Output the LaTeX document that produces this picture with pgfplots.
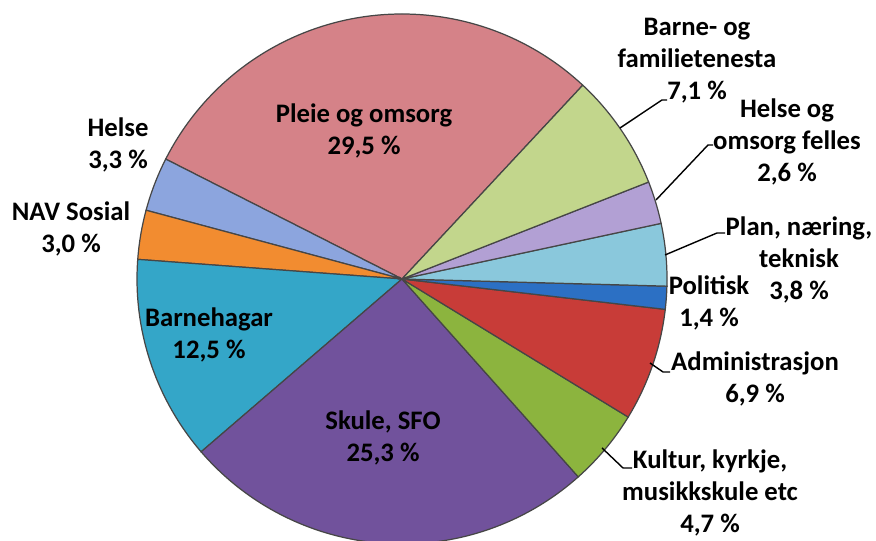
\documentclass[border=0pt]{standalone}
\usepackage{fontspec}
\setmainfont{Carlito}
\usepackage{pgfplots}
\pgfplotsset{compat=1.18}

\definecolor{cPleie}{RGB}{213,130,136}
\definecolor{cHelse}{RGB}{140,165,222}
\definecolor{cNAV}{RGB}{242,140,48}
\definecolor{cBhg}{RGB}{52,166,200}
\definecolor{cSkule}{RGB}{113,82,156}
\definecolor{cKultur}{RGB}{140,180,62}
\definecolor{cAdm}{RGB}{200,60,56}
\definecolor{cPol}{RGB}{44,112,196}
\definecolor{cPlan}{RGB}{138,200,220}
\definecolor{cHOF}{RGB}{178,160,212}
\definecolor{cBarne}{RGB}{194,214,140}
\definecolor{edge}{RGB}{70,70,70}

% shares in per cent, counter-clockwise from the Pleie/Barne boundary
\def\total{100.1}
\pgfmathsetmacro\aA{47}
\pgfmathsetmacro\aB{\aA+29.5*360/\total}% Pleie og omsorg
\pgfmathsetmacro\aC{\aB+3.3*360/\total}%  Helse
\pgfmathsetmacro\aD{\aC+3.0*360/\total}%  NAV Sosial
\pgfmathsetmacro\aE{\aD+12.5*360/\total}% Barnehagar
\pgfmathsetmacro\aF{\aE+25.3*360/\total}% Skule, SFO
\pgfmathsetmacro\aG{\aF+4.7*360/\total}%  Kultur
\pgfmathsetmacro\aH{\aG+6.9*360/\total}%  Administrasjon
\pgfmathsetmacro\aI{\aH+1.4*360/\total}%  Politisk
\pgfmathsetmacro\aJ{\aI+3.8*360/\total}%  Plan
\pgfmathsetmacro\aK{\aJ+2.6*360/\total}%  Helse og omsorg felles
\pgfmathsetmacro\aL{\aK+7.1*360/\total}%  Barne- og familietenesta

\newcommand\slice[3]{%
  \addplot[fill=#3, draw=edge, line width=0.35pt, domain=#1:#2, samples=80]
    ({cos(x)},{sin(x)}) -- (axis cs:0,0) -- cycle;}

\tikzset{lbl/.style={font=\bfseries\fontsize{7.6}{9.1}\selectfont, align=center, inner sep=0pt, text=black}}

\begin{document}
\begin{tikzpicture}
\begin{axis}[
  width=8.76cm, height=5.41cm, scale only axis,
  xmin=-1.51698, xmax=1.78868, ymin=-0.98868, ymax=1.05283,
  hide axis, clip=true,
]
\slice{\aA}{\aB}{cPleie}
\slice{\aB}{\aC}{cHelse}
\slice{\aC}{\aD}{cNAV}
\slice{\aD}{\aE}{cBhg}
\slice{\aE}{\aF}{cSkule}
\slice{\aF}{\aG}{cKultur}
\slice{\aG}{\aH}{cAdm}
\slice{\aH}{\aI}{cPol}
\slice{\aI}{\aJ}{cPlan}
\slice{\aJ}{\aK}{cHOF}
\slice{\aK}{\aL}{cBarne}

\coordinate (sw) at (rel axis cs:0,0);
\coordinate (ne) at (rel axis cs:1,1);

\draw[line width=0.4pt] (axis cs:0.8226,0.5698) -- (axis cs:0.9811,0.6755) -- (axis cs:1.0,0.6755);
\draw[line width=0.4pt] (axis cs:0.9585,0.2981) -- (axis cs:1.1547,0.5057) -- (axis cs:1.1736,0.5057);
\draw[line width=0.4pt] (axis cs:0.9925,0.0906) -- (axis cs:1.1887,0.1736) -- (axis cs:1.2189,0.1736);
\draw[line width=0.4pt] (axis cs:0.9358,-0.3170) -- (axis cs:0.9849,-0.3509) -- (axis cs:1.0113,-0.3509);
\draw[line width=0.4pt] (axis cs:0.7547,-0.6377) -- (axis cs:0.8340,-0.7132) -- (axis cs:0.8679,-0.7132);

\node[lbl] at (axis cs:-0.1434,0.5585) {Pleie og omsorg\\29,5 \%};
\node[lbl] at (axis cs:1.1132,0.8226) {Barne- og\\familietenesta\\7,1 \%};
\node[lbl] at (axis cs:1.4528,0.5170) {Helse og\\omsorg felles\\2,6 \%};
\node[lbl] at (axis cs:1.4981,0.0717) {Plan, næring,\\teknisk\\3,8 \%};
\node[lbl] at (axis cs:1.1585,-0.0906) {Politisk\\1,4 \%};
\node[lbl] at (axis cs:1.3321,-0.3774) {Administrasjon\\6,9 \%};
\node[lbl] at (axis cs:1.1623,-0.8075) {Kultur, kyrkje,\\musikkskule etc\\4,7 \%};
\node[lbl] at (axis cs:-0.0717,-0.6) {Skule, SFO\\25,3 \%};
\node[lbl] at (axis cs:-0.7283,-0.2113) {Barnehagar\\12,5 \%};
\node[lbl] at (axis cs:-1.2491,0.1906) {NAV Sosial\\3,0 \%};
\node[lbl] at (axis cs:-1.0717,0.5057) {Helse\\3,3 \%};
\end{axis}
\pgfresetboundingbox
\path[use as bounding box] (sw) rectangle (ne);
\end{tikzpicture}
\end{document}
